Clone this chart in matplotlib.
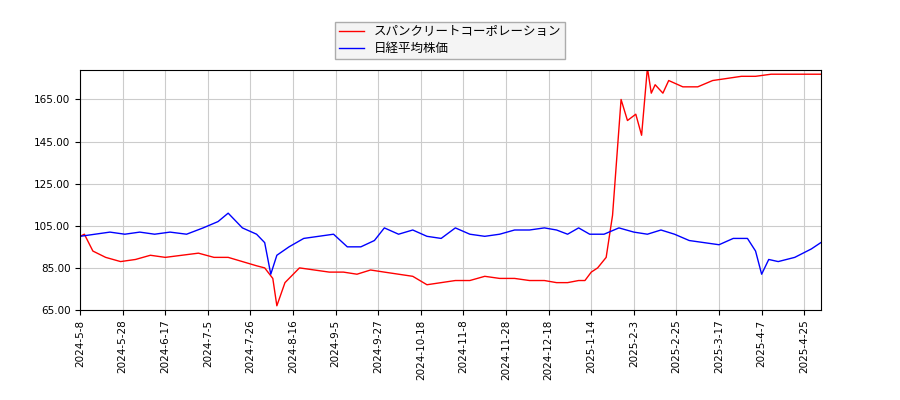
import matplotlib
matplotlib.use("Agg")
import matplotlib.pyplot as plt
import pandas as pd
import numpy as np

plt.rcParams['font.family'] = ['Noto Sans CJK JP', 'DejaVu Sans']

red_dates = ["2024-05-08","2024-05-10","2024-05-14","2024-05-20","2024-05-27","2024-06-03","2024-06-10","2024-06-17",
 "2024-06-24","2024-07-01","2024-07-08","2024-07-15","2024-07-22","2024-07-29","2024-08-02","2024-08-06","2024-08-08",
 "2024-08-12","2024-08-19","2024-08-26","2024-09-02","2024-09-09","2024-09-16","2024-09-23","2024-09-30","2024-10-07",
 "2024-10-14","2024-10-21","2024-10-28","2024-11-04","2024-11-11","2024-11-18","2024-11-25","2024-12-02","2024-12-09",
 "2024-12-16","2024-12-23","2024-12-30","2025-01-06","2025-01-10","2025-01-14","2025-01-17","2025-01-21","2025-01-24",
 "2025-01-28","2025-01-31","2025-02-04","2025-02-07","2025-02-10","2025-02-12","2025-02-14","2025-02-18","2025-02-21",
 "2025-02-28","2025-03-07","2025-03-14","2025-03-21","2025-03-28","2025-04-04","2025-04-11","2025-04-18","2025-04-25","2025-05-02"]
red_vals = [100,101,93,90,88,89,91,90,91,92,90,90,88,86,85,80,67,
 78,85,84,83,83,82,84,83,82,81,77,78,79,79,81,80,80,79,
 79,78,78,79,79,83,85,90,110,165,155,158,148,180,168,172,168,174,
 171,171,174,175,176,176,177,177,177,177]

blue_dates = ["2024-05-08","2024-05-15","2024-05-22","2024-05-29","2024-06-05","2024-06-12","2024-06-19","2024-06-26",
 "2024-07-03","2024-07-10","2024-07-15","2024-07-22","2024-07-29","2024-08-02","2024-08-05","2024-08-08","2024-08-14",
 "2024-08-21","2024-08-28","2024-09-04","2024-09-11","2024-09-18","2024-09-25","2024-09-30","2024-10-07","2024-10-14",
 "2024-10-21","2024-10-28","2024-11-04","2024-11-11","2024-11-18","2024-11-25","2024-12-02","2024-12-09","2024-12-16",
 "2024-12-23","2024-12-30","2025-01-06","2025-01-13","2025-01-20","2025-01-27","2025-02-03","2025-02-10","2025-02-17",
 "2025-02-24","2025-03-03","2025-03-10","2025-03-17","2025-03-24","2025-03-31","2025-04-04","2025-04-07","2025-04-10",
 "2025-04-14","2025-04-21","2025-04-28","2025-05-02"]
blue_vals = [100,101,102,101,102,101,102,101,104,107,111,104,101,97,82,91,95,
 99,100,101,95,95,98,104,101,103,100,99,104,101,100,101,103,103,104,
 103,101,104,101,101,104,102,101,103,101,98,97,96,99,99,93,82,89,
 88,90,94,97]

tick_labels = ["2024-5-8","2024-5-28","2024-6-17","2024-7-5","2024-7-26","2024-8-16","2024-9-5","2024-9-27",
 "2024-10-18","2024-11-8","2024-11-28","2024-12-18","2025-1-14","2025-2-3","2025-2-25","2025-3-17","2025-4-7","2025-4-25"]

# trading-day style axis: ticks evenly spaced, dates mapped between them
tick_ord = pd.to_datetime(tick_labels).map(pd.Timestamp.toordinal).values.astype(float)
tick_pos = np.arange(len(tick_labels), dtype=float)
def pos(dates):
    o = pd.to_datetime(dates).map(pd.Timestamp.toordinal).values.astype(float)
    slope_end = (tick_pos[-1] - tick_pos[-2]) / (tick_ord[-1] - tick_ord[-2])
    p = np.interp(o, tick_ord, tick_pos)
    p = np.where(o > tick_ord[-1], tick_pos[-1] + (o - tick_ord[-1]) * slope_end, p)
    return p

fig, ax = plt.subplots(figsize=(9, 4), dpi=100)
fig.subplots_adjust(left=0.089, right=0.912, top=0.825, bottom=0.225)
ax.plot(pos(red_dates), red_vals, color='red', lw=1, label='スパンクリートコーポレーション')
ax.plot(pos(blue_dates), blue_vals, color='blue', lw=1, label='日経平均株価')
ax.set_xticks(tick_pos)
ax.set_xticklabels(tick_labels, rotation=90, fontsize=7.5, family='DejaVu Sans')
ax.set_yticks([65,85,105,125,145,165])
ax.set_yticklabels([f"{v:.2f}" for v in [65,85,105,125,145,165]], fontsize=7.5, family='DejaVu Sans')
ax.set_ylim(65, 179)
ax.set_xlim(0, pos(["2025-05-02"])[0])
ax.grid(True, color='#cccccc', lw=0.8)
ax.legend(loc='lower center', bbox_to_anchor=(0.5, 1.02), fontsize=9, frameon=True,
          facecolor='#f2f2f2', edgecolor='#999999', fancybox=False, borderpad=0.3, labelspacing=0.3)
fig.savefig("out.png")
